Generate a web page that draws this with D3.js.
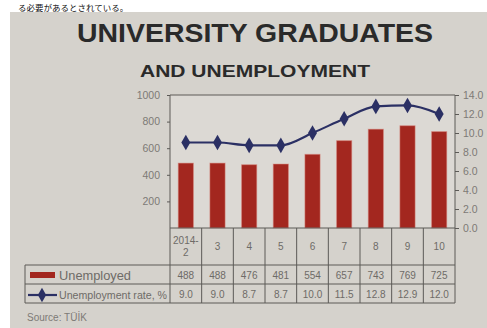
<!DOCTYPE html>
<html>
<head>
<meta charset="utf-8">
<script src="https://cdn.jsdelivr.net/npm/d3@7"></script>
<style>
  body { margin: 0; background: #fff; }
  svg { display: block; }
</style>
</head>
<body>
<svg id="chart"></svg>
<script>
const months = ['2014-2', '3', '4', '5', '6', '7', '8', '9', '10'];
const unemployed = [488, 488, 476, 481, 554, 657, 743, 769, 725]; // thousand
const unemployment_rate = [9.0, 9.0, 8.7, 8.7, 10.0, 11.5, 12.8, 12.9, 12.0]; // %
const left_ticks = [200, 400, 600, 800, 1000];
const right_ticks = [0, 2, 4, 6, 8, 10, 12, 14];

const width = 487;
const height = 328;
const plot = { left: 170, right: 455, top: 95, bottom: 228 };
const table = { left: 25, row1: 265, row2: 284, row3: 303 };

const paper = '#d5d2cc';
const ink = '#2a2a2a';
const faded = '#7d7a76';
const bar_color = '#a3271f';
const line_color = '#2b3064';
const grid_color = '#5c5a57';
const font = "'Liberation Sans', Arial, sans-serif";

const svg = d3.select('#chart').attr('width', width).attr('height', height).attr('viewBox', [0, 0, width, height]);

// page background: white strip of the previous article + grey paper
svg.append('rect').attr('width', width).attr('height', height).attr('fill', '#fff');
svg.append('rect').attr('x', 10).attr('y', 12).attr('width', width - 10).attr('height', height - 12).attr('fill', paper);
svg
  .append('text')
  .attr('x', 18)
  .attr('y', 1)
  .attr('dominant-baseline', 'text-before-edge')
  .attr('font-family', "'Noto Sans CJK JP', sans-serif")
  .attr('font-size', 8.5)
  .attr('fill', '#111')
  .text('る必要があるとされている。');

// titles
svg
  .append('text')
  .attr('x', 255)
  .attr('y', 42)
  .attr('text-anchor', 'middle')
  .attr('font-family', font)
  .attr('font-weight', 'bold')
  .attr('font-size', 26)
  .attr('textLength', 356)
  .attr('lengthAdjust', 'spacingAndGlyphs')
  .attr('fill', ink)
  .text('UNIVERSITY GRADUATES');
svg
  .append('text')
  .attr('x', 255)
  .attr('y', 77)
  .attr('text-anchor', 'middle')
  .attr('font-family', font)
  .attr('font-weight', 'bold')
  .attr('font-size', 16.5)
  .attr('textLength', 230)
  .attr('lengthAdjust', 'spacingAndGlyphs')
  .attr('fill', ink)
  .text('AND UNEMPLOYMENT');

/**
 * scales
 */
const x_col = d3.scaleBand(months, [plot.left, plot.right]);
const x_bar = d3.scaleBand(months, [plot.left, plot.right]).paddingInner(0.52).paddingOuter(0.26);
const y_left = d3.scaleLinear([0, 1000], [plot.bottom, plot.top]);
const y_right = d3.scaleLinear([0, 14], [plot.bottom, plot.top]);

// plot area is printed slightly lighter
svg
  .append('rect')
  .attr('x', plot.left)
  .attr('y', plot.top)
  .attr('width', plot.right - plot.left)
  .attr('height', plot.bottom - plot.top)
  .attr('fill', '#dcd9d4');

/**
 * bars
 */
svg
  .append('g')
  .selectAll('rect')
  .data(months)
  .join('rect')
  .attr('x', (d) => x_bar(d))
  .attr('y', (d, i) => y_left(unemployed[i]))
  .attr('width', x_bar.bandwidth())
  .attr('height', (d, i) => y_left(0) - y_left(unemployed[i]))
  .attr('fill', bar_color)
  .attr('stroke', '#d98a80')
  .attr('stroke-opacity', 0.5)
  .attr('stroke-width', 1);

/**
 * line + diamonds
 */
const cx = (d) => x_bar(d) + x_bar.bandwidth() / 2;
svg
  .append('path')
  .datum(months)
  .attr('fill', 'none')
  .attr('stroke', line_color)
  .attr('stroke-width', 2.2)
  .attr('stroke-linejoin', 'round')
  .attr(
    'd',
    d3
      .line()
      .curve(d3.curveMonotoneX)
      .x((d) => cx(d))
      .y((d, i) => y_right(unemployment_rate[i])),
  );
svg
  .append('g')
  .selectAll('path')
  .data(months)
  .join('path')
  .attr('transform', (d, i) => `translate(${cx(d)},${y_right(unemployment_rate[i])})`)
  .attr('d', d3.symbol(d3.symbolDiamond, 70))
  .attr('fill', line_color);

/**
 * axes
 */
svg
  .append('g')
  .attr('transform', `translate(${plot.left},0)`)
  .call(d3.axisLeft(y_left).tickValues(left_ticks).tickFormat(d3.format('d')).tickSize(3).tickPadding(7))
  .call((g) => g.select('.domain').remove())
  .call((g) => g.selectAll('.tick line').attr('stroke', grid_color))
  .call((g) => g.selectAll('.tick text').attr('font-family', font).attr('font-size', 10.5).attr('fill', faded));

svg
  .append('g')
  .attr('transform', `translate(${plot.right},0)`)
  .call(d3.axisRight(y_right).tickValues(right_ticks).tickFormat(d3.format('.1f')).tickSize(4).tickPadding(4))
  .call((g) => g.select('.domain').remove())
  .call((g) => g.selectAll('.tick line').attr('stroke', grid_color))
  .call((g) => g.selectAll('.tick text').attr('font-family', font).attr('font-size', 10.5).attr('fill', faded));

// frame of the plot
svg
  .append('path')
  .attr('fill', 'none')
  .attr('stroke', grid_color)
  .attr('stroke-width', 1)
  .attr('d', `M${plot.left},${plot.bottom}V${plot.top}H${plot.right}V${plot.bottom}`);

/**
 * data table
 */
const grid = svg.append('g').attr('stroke', grid_color).attr('stroke-width', 1).attr('fill', 'none');
grid.append('line').attr('x1', plot.left).attr('x2', plot.left).attr('y1', plot.bottom).attr('y2', table.row3);
grid
  .selectAll('.col')
  .data(months)
  .join('line')
  .attr('class', 'col')
  .attr('x1', (d) => x_col(d) + x_col.bandwidth())
  .attr('x2', (d) => x_col(d) + x_col.bandwidth())
  .attr('y1', plot.bottom)
  .attr('y2', table.row3);
grid.append('line').attr('x1', plot.left).attr('x2', plot.right).attr('y1', plot.bottom).attr('y2', plot.bottom);
[table.row1, table.row2, table.row3].forEach((y) =>
  grid.append('line').attr('x1', table.left).attr('x2', plot.right).attr('y1', y).attr('y2', y),
);
grid.append('line').attr('x1', table.left).attr('x2', table.left).attr('y1', table.row1).attr('y2', table.row3);

const cells = svg
  .append('g')
  .attr('font-family', font)
  .attr('font-size', 10)
  .attr('fill', '#6e6b67')
  .attr('text-anchor', 'middle');
const col_center = (d) => x_col(d) + x_col.bandwidth() / 2;

// month labels, "2014-2" is split on two lines
cells
  .selectAll('.month')
  .data(months)
  .join('text')
  .attr('class', 'month')
  .attr('x', col_center)
  .attr('y', (d) => (d.includes('-') ? 244 : 250))
  .each(function (d) {
    const parts = d.includes('-') ? [d.split('-')[0] + '-', d.split('-')[1]] : [d];
    d3.select(this)
      .selectAll('tspan')
      .data(parts)
      .join('tspan')
      .attr('x', col_center(d))
      .attr('dy', (p, i) => (i ? 12 : 0))
      .text((p) => p);
  });

cells
  .selectAll('.unemp')
  .data(months)
  .join('text')
  .attr('class', 'unemp')
  .attr('x', col_center)
  .attr('y', 278.5)
  .text((d, i) => unemployed[i]);

cells
  .selectAll('.rate')
  .data(months)
  .join('text')
  .attr('class', 'rate')
  .attr('x', col_center)
  .attr('y', 297.5)
  .text((d, i) => d3.format('.1f')(unemployment_rate[i]));

// legend rows
const legend = svg.append('g').attr('font-family', font).attr('fill', '#6e6b67');
legend.append('rect').attr('x', 30).attr('y', 272).attr('width', 25).attr('height', 6).attr('fill', bar_color);
legend
  .append('text')
  .attr('x', 59)
  .attr('y', 279.5)
  .attr('font-size', 12)
  .attr('textLength', 72)
  .attr('lengthAdjust', 'spacingAndGlyphs')
  .text('Unemployed');
legend
  .append('line')
  .attr('x1', 28)
  .attr('x2', 57)
  .attr('y1', 295)
  .attr('y2', 295)
  .attr('stroke', line_color)
  .attr('stroke-width', 2.2);
legend
  .append('path')
  .attr('transform', 'translate(42,295)')
  .attr('d', d3.symbol(d3.symbolDiamond, 60))
  .attr('fill', line_color);
legend
  .append('text')
  .attr('x', 59)
  .attr('y', 298.5)
  .attr('font-size', 10.5)
  .attr('textLength', 108)
  .attr('lengthAdjust', 'spacingAndGlyphs')
  .text('Unemployment rate, %');

svg
  .append('text')
  .attr('x', 27)
  .attr('y', 321)
  .attr('font-family', font)
  .attr('font-size', 10)
  .attr('fill', faded)
  .text('Source: TÜİK');
</script>
</body>
</html>
